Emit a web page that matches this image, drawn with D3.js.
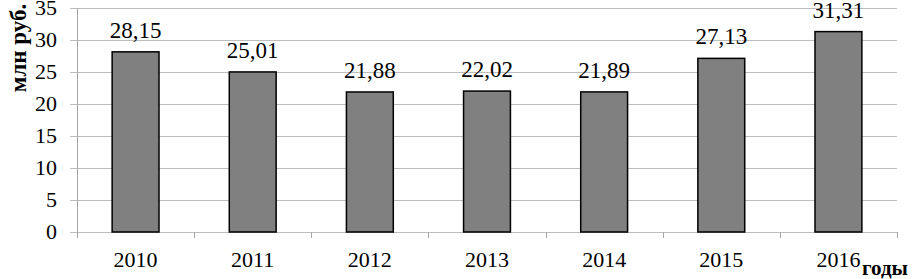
<!DOCTYPE html>
<html>
<head>
<meta charset="utf-8">
<script src="https://cdn.jsdelivr.net/npm/d3@7"></script>
<style>
  body { margin: 0; background: #fff; }
  text { font-family: "Liberation Serif", "Times New Roman", serif; fill: #000; }
</style>
</head>
<body>
<svg id="chart" width="912" height="279"></svg>
<script>
var years = ["2010", "2011", "2012", "2013", "2014", "2015", "2016"];
var values = [28.15, 25.01, 21.88, 22.02, 21.89, 27.13, 31.31];
var yTicks = [0, 5, 10, 15, 20, 25, 30, 35];

function fmt(v) {
    return v.toFixed(2).replace(".", ",");
}

function drawChart() {
    var svg = d3.select("#chart");
    var plot = { left: 77, right: 897, top: 8, bottom: 232 };

    var x = d3.scaleBand()
        .domain(years)
        .range([plot.left, plot.right])
        .paddingInner(0.6)
        .paddingOuter(0.3);

    var y = d3.scaleLinear()
        .domain([0, 35])
        .range([plot.bottom, plot.top]);

    // gridlines
    svg.append("g")
        .selectAll("line")
        .data(yTicks)
        .enter().append("line")
        .attr("x1", plot.left - 7)
        .attr("x2", plot.right)
        .attr("y1", function(d) { return Math.round(y(d)) + 0.5; })
        .attr("y2", function(d) { return Math.round(y(d)) + 0.5; })
        .attr("stroke", "#bdbdbd")
        .attr("stroke-width", 1);

    // y axis line
    svg.append("line")
        .attr("x1", plot.left + 0.5).attr("x2", plot.left + 0.5)
        .attr("y1", plot.top).attr("y2", plot.bottom)
        .attr("stroke", "#a6a6a6");

    // y tick labels
    svg.append("g")
        .selectAll("text")
        .data(yTicks)
        .enter().append("text")
        .attr("x", 57)
        .attr("y", function(d) { return y(d) + 7; })
        .attr("text-anchor", "end")
        .style("font-size", "22px")
        .text(function(d) { return d; });

    // x axis ticks at category boundaries
    var bounds = d3.range(years.length + 1).map(function(i) { return plot.left + i * x.step(); });
    svg.append("g")
        .selectAll("line")
        .data(bounds)
        .enter().append("line")
        .attr("x1", function(d) { return Math.round(d) + 0.5; })
        .attr("x2", function(d) { return Math.round(d) + 0.5; })
        .attr("y1", plot.bottom)
        .attr("y2", plot.bottom + 6)
        .attr("stroke", "#a6a6a6");

    // bars
    svg.append("g")
        .selectAll("rect")
        .data(values)
        .enter().append("rect")
        .attr("x", function(d, i) { return x(years[i]); })
        .attr("y", function(d) { return y(d); })
        .attr("width", x.bandwidth())
        .attr("height", function(d) { return plot.bottom - y(d); })
        .attr("fill", "#808080")
        .attr("stroke", "#000")
        .attr("stroke-width", 1.5);

    // value labels
    svg.append("g")
        .selectAll("text")
        .data(values)
        .enter().append("text")
        .attr("x", function(d, i) { return x(years[i]) + x.bandwidth() / 2; })
        .attr("y", function(d) { return y(d) - 14; })
        .attr("text-anchor", "middle")
        .style("font-size", "23px")
        .text(function(d) { return fmt(d); });

    // category labels
    svg.append("g")
        .selectAll("text")
        .data(years)
        .enter().append("text")
        .attr("x", function(d) { return x(d) + x.bandwidth() / 2; })
        .attr("y", 267)
        .attr("text-anchor", "middle")
        .style("font-size", "22px")
        .text(function(d) { return d; });

    // axis titles
    svg.append("text")
        .attr("transform", "translate(26,48) rotate(-90)")
        .attr("text-anchor", "middle")
        .style("font-size", "23px")
        .style("font-weight", "bold")
        .text("млн  руб.");

    svg.append("text")
        .attr("x", 862)
        .attr("y", 275)
        .style("font-size", "21px")
        .style("font-weight", "bold")
        .text("годы");
}

drawChart();
</script>
</body>
</html>
